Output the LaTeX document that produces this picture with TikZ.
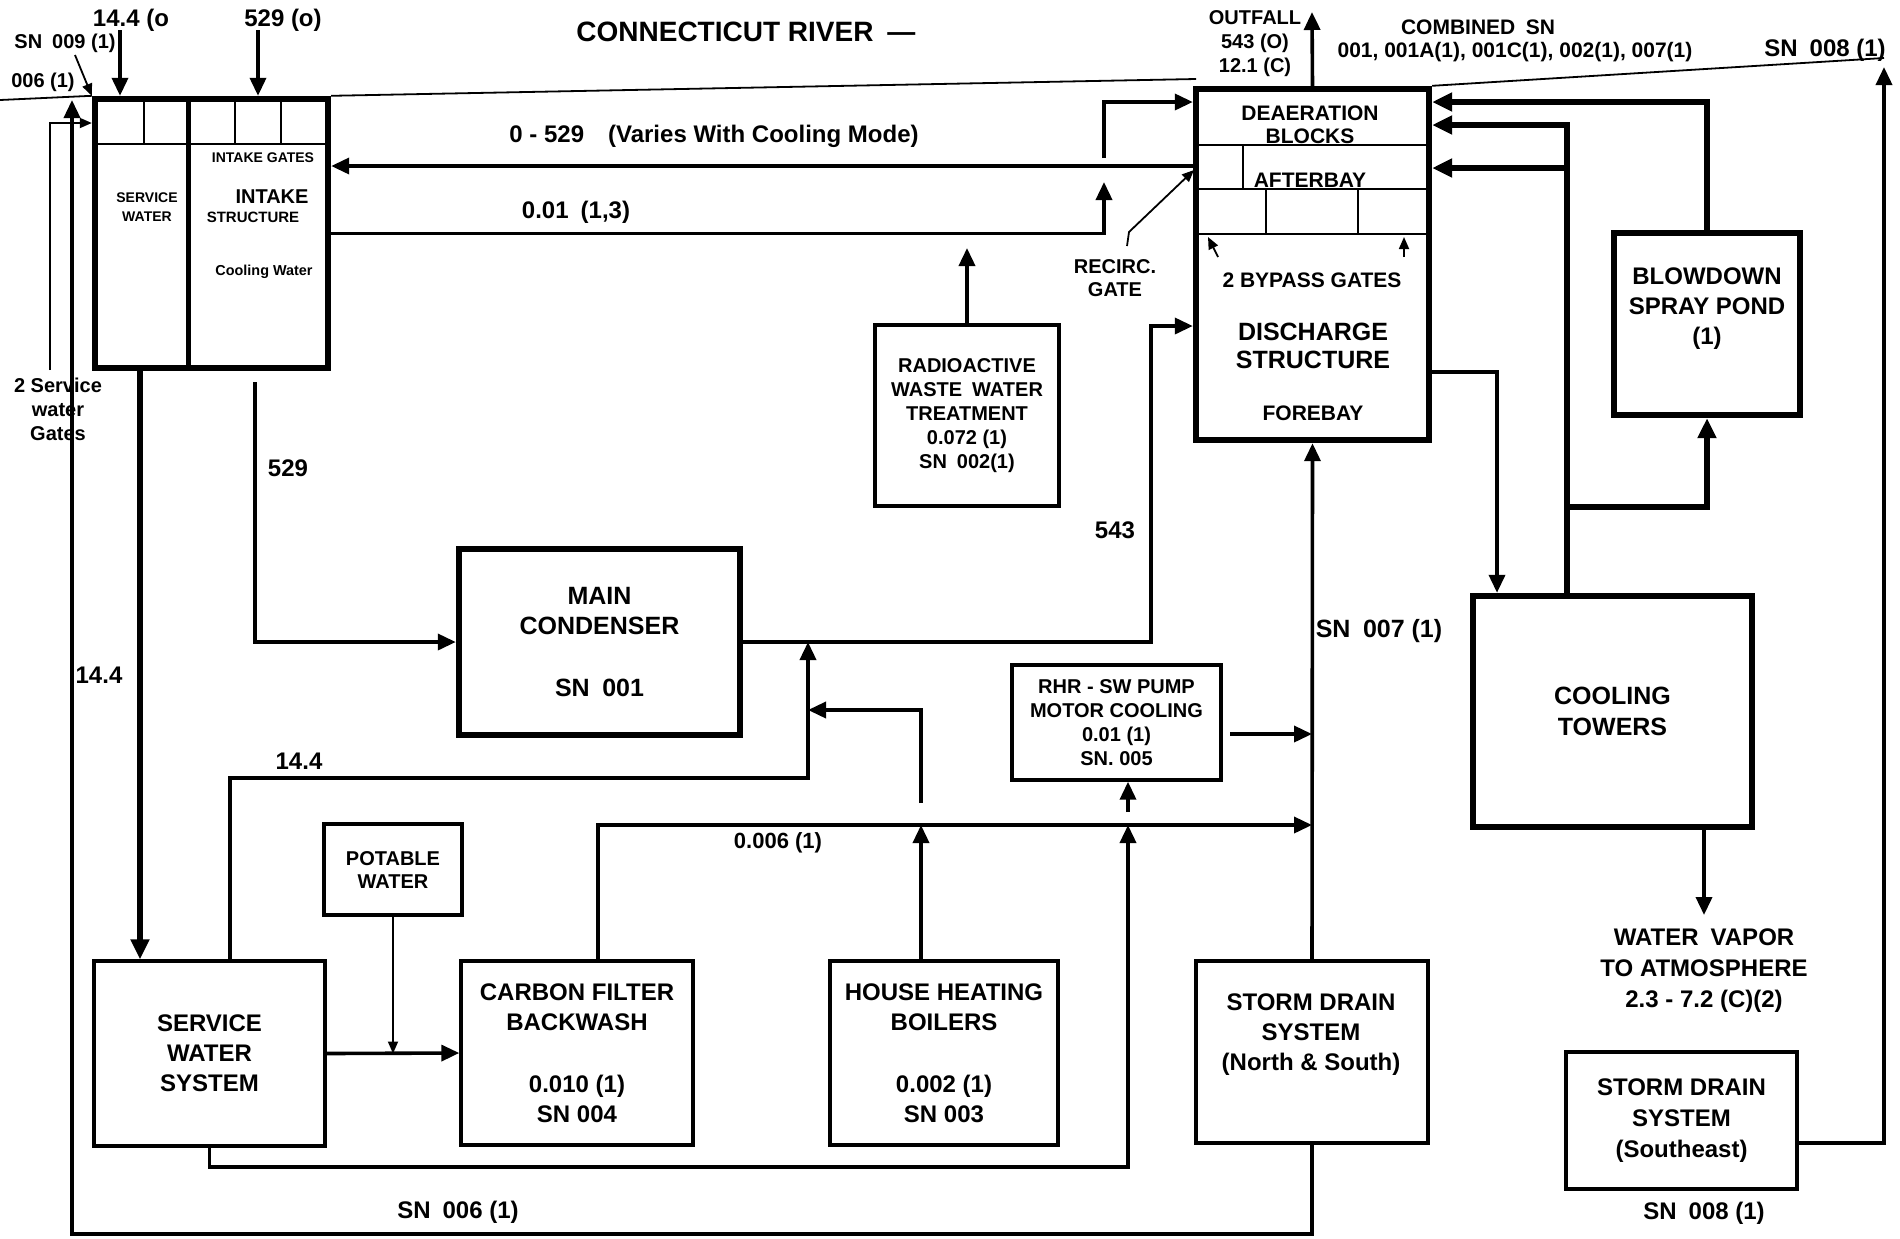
\documentclass[tikz,border=0pt]{standalone}
\usepackage{fontspec}
\setmainfont{Liberation Sans}
\usetikzlibrary{arrows.meta}
\newcommand{\fsz}[2]{\bfseries\fontsize{#1}{#2}\selectfont}

\begin{document}
\begin{tikzpicture}[x=0.5pt, y=-0.5pt,
    every node/.style={inner sep=0pt, align=center, font=\fsz{12}{15}},
    bigbox/.style={draw, line width=3.2pt},
    box/.style={draw, line width=1.7pt},
    flow/.style={line width=1.8pt, -{Triangle[length=9pt,width=8pt]}},
    heavy/.style={line width=2.6pt, -{Triangle[length=10pt,width=9pt]}},
    fine/.style={line width=0.9pt},
    thinarrow/.style={fine, -{Triangle[length=6pt,width=5pt]}}]

    \useasboundingbox (0,0) rectangle (1900,1238);

    % Title
    \node[font=\fsz{14}{17}, anchor=west] (river) at (576,32) {CONNECTICUT RIVER\enspace---};

    % Intake structure
    \node[bigbox, minimum width=116.5pt, minimum height=134.5pt] (intake) at (211.5,233.5) {};
    \draw[line width=2.5pt] (188,99) -- (188,368);
    \draw[fine] (95,144) -- (328,144) (144,99) -- (144,144)
        (235,99) -- (235,144) (281,99) -- (281,144);
    \node[font=\fsz{7}{9}] (igates) at (263,158) {INTAKE GATES};
    \node[font=\fsz{7}{9.5}] (swcol) at (147,207) {SERVICE\\WATER};
    \node[font=\fsz{10}{12}] (itk) at (272,197) {INTAKE};
    \node[font=\fsz{7.5}{9}] (itks) at (253,217) {STRUCTURE};
    \node[font=\fsz{7.2}{9}] (cw) at (264,272) {Cooling Water};

    % Discharge structure
    \node[bigbox, minimum width=116.5pt, minimum height=175.5pt] (disch) at (1312.5,264.5) {};
    \draw[fine] (1196,145) -- (1429,145) (1196,189) -- (1429,189) (1196,234) -- (1429,234)
        (1243,145) -- (1243,189) (1266,189) -- (1266,234) (1358,189) -- (1358,234);
    \node[font=\fsz{10.5}{11.5}] (deaer) at (1310,125) {DEAERATION\\BLOCKS};
    \node[font=\fsz{10.5}{12}] (after) at (1310,180) {AFTERBAY};
    \node[font=\fsz{10.5}{12}] (bypass) at (1312,280) {2 BYPASS GATES};
    \node[font=\fsz{12.5}{14}] (dstr) at (1313,346) {DISCHARGE\\STRUCTURE};
    \node[font=\fsz{10.5}{12}] (foreb) at (1313,413) {FOREBAY};
    \draw[thinarrow] (1218,257) -- (1208,237);
    \draw[thinarrow] (1404,257) -- (1404,237);

    % Boxes
    \node[bigbox, minimum width=140.5pt, minimum height=93pt, font=\fsz{12.5}{15}] (cond) at (599.5,642) {MAIN\\CONDENSER\\[16pt]SN\enspace 001};
    \node[box, minimum width=92pt, minimum height=90.5pt, font=\fsz{10}{12}] (radw) at (967,415.5) {RADIOACTIVE\\WASTE\enspace WATER\\TREATMENT\\0.072 (1)\\SN\enspace 002(1)};
    \node[box, minimum width=104.5pt, minimum height=57.5pt, font=\fsz{10}{12}] (rhr) at (1116.5,722.5) {RHR - SW PUMP\\MOTOR COOLING\\0.01 (1)\\SN.\ 005};
    \node[bigbox, minimum width=93pt, minimum height=91pt] (blow) at (1707,324) {};
    \node (blowtxt) at (1707,309) {BLOWDOWN\\SPRAY POND\\(1)};
    \node[bigbox, minimum width=139.5pt, minimum height=115.5pt, font=\fsz{12.5}{15.5}] (towers) at (1612.5,711.5) {COOLING\\TOWERS};
    \node[box, minimum width=115.5pt, minimum height=92.5pt] (swsys) at (209.5,1053.5) {SERVICE\\WATER\\SYSTEM};
    \node[box, minimum width=69pt, minimum height=45.5pt, font=\fsz{10}{11.5}] (potable) at (393,869.5) {POTABLE\\WATER};
    \node[box, minimum width=116pt, minimum height=92pt] (carbon) at (577,1053) {CARBON FILTER\\BACKWASH\\[16pt]0.010 (1)\\SN 004};
    \node[box, minimum width=114pt, minimum height=92pt] (boilers) at (944,1053) {HOUSE HEATING\\BOILERS\\[16pt]0.002 (1)\\SN 003};
    \node[box, minimum width=116pt, minimum height=91pt] (sdns) at (1312,1052) {};
    \node (sdnstxt) at (1311,1035) {STORM DRAIN\\SYSTEM\\(North \& South)};
    \node[box, minimum width=115.5pt, minimum height=68.5pt, font=\fsz{12}{15.5}] (sdse) at (1681.5,1120.5) {STORM DRAIN\\SYSTEM\\(Southeast)};

    % Labels
    \node (lbl144o) at (131,20) {14.4 (o};
    \node (lbl529o) at (283,20) {529 (o)};
    \node[font=\fsz{10}{12}] (sn009) at (65,43) {SN\enspace 009 (1)};
    \node[font=\fsz{10}{12}] (sn006a) at (43,82) {006 (1)};
    \node[font=\fsz{10}{12}] (gates) at (58,409) {2 Service\\water\\Gates};
    \node (vary) at (714,136) {0 - 529\quad(Varies With Cooling Mode)};
    \node (q001) at (576,212) {0.01\enspace(1,3)};
    \node (q529) at (288,468) {529};
    \node (q144a) at (99,675) {14.4};
    \node (q144b) at (299,761) {14.4};
    \node (q543) at (1115,530) {543};
    \node[font=\fsz{11}{13}] (q006) at (778,843) {0.006 (1)};
    \node[font=\fsz{12.5}{15}] (sn007) at (1379,631) {SN\enspace 007 (1)};
    \node (sn006) at (458,1212) {SN\enspace 006 (1)};
    \node[font=\fsz{10}{11.5}] (recirc) at (1115,278) {RECIRC.\\GATE};
    \node[font=\fsz{10}{12}] (outfall) at (1255,44) {OUTFALL\\543 (O)\\12.1 (C)};
    \node[font=\fsz{10.5}{12.5}] (comb) at (1478,27) {COMBINED\enspace SN};
    \node[font=\fsz{10.5}{12.5}] (combl) at (1515,52) {001, 001A(1), 001C(1), 002(1), 007(1)};
    \node (sn008a) at (1825,50) {SN\enspace 008 (1)};
    \node[font=\fsz{12}{15.5}] (vapor) at (1704,971) {WATER\enspace VAPOR\\TO ATMOSPHERE\\2.3 - 7.2 (C)(2)};
    \node (sn008b) at (1704,1213) {SN\enspace 008 (1)};

    % Coordinates
    \coordinate (rivL) at (0,100);
    \coordinate (rivM) at (1196,79);
    \coordinate (rivR) at (1884,58);
    \coordinate (in144) at (120,30);
    \coordinate (in529) at (258,30);
    \coordinate (p009) at (75,55);
    \coordinate (gw0) at (50,370);
    \coordinate (gw1) at (50,123);
    \coordinate (swx) at (140,0);
    \coordinate (r006) at (72,1234);
    \coordinate (c529) at (255,382);
    \coordinate (c543) at (1151,326);
    \coordinate (c0529) at (1196,166);
    \coordinate (rcBot) at (1104,158);
    \coordinate (rcTop) at (1104,102);
    \coordinate (c001) at (1104,182);
    \coordinate (radUp) at (967,248);
    \coordinate (rg1) at (1127,246);
    \coordinate (rg2) at (1129,232);
    \coordinate (rg3) at (1194,170);
    \coordinate (outf) at (1312,12);
    \coordinate (ctIn) at (1497,372);
    \coordinate (ctUp) at (1567,125);
    \coordinate (ctMid) at (1567,168);
    \coordinate (ctBr) at (1567,507);
    \coordinate (blTop) at (1707,102);
    \coordinate (vap) at (1704,915);
    \coordinate (seR) at (1884,1143);
    \coordinate (seTop) at (1884,67);
    \coordinate (rhrOut) at (1230,734);
    \coordinate (rhrIn) at (1128,812);
    \coordinate (c006) at (598,825);
    \coordinate (bo) at (921,825);
    \coordinate (bo2) at (921,803);
    \coordinate (bo3) at (921,710);
    \coordinate (s14) at (230,778);
    \coordinate (s14b) at (808,778);
    \coordinate (swb) at (1128,1167);

    % River bank
    \draw[fine] (rivL) -- (intake.north west);
    \draw[fine] (intake.north east) -- (rivM);
    \draw[fine] (disch.north east) -- (rivR);

    % Intake side
    \draw[flow] (in144) -- (in144 |- intake.north);
    \draw[flow] (in529) -- (in529 |- intake.north);
    \draw[thinarrow] (p009) -- (intake.north west);
    \draw[thinarrow] (gw0) -- (gw1) -- (gw1 -| intake.west);
    \draw[heavy] (intake.south -| swx) -- (swsys.north -| swx);
    \draw[flow] (c529) |- (cond.west);
    \draw[flow] (sdns.south) |- (r006) -- (r006 |- rivL);

    % Intake to discharge
    \draw[flow] (c0529) -- (c0529 -| intake.east);
    \draw[flow] (rcBot) -- (rcTop) -- (rcTop -| disch.west);
    \draw[flow] (intake.east) -| (c001);
    \draw[flow] (radw.north) -- (radUp);
    \draw[thinarrow] (rg1) -- (rg2) -- (rg3);
    \draw[flow] (cond.east) -| (c543) -- (c543 -| disch.west);
    \draw[flow] (disch.north) -- (outf);

    % Cooling towers and spray pond
    \draw[flow] (ctIn -| disch.east) -- (ctIn) -- (ctIn |- towers.north);
    \draw[heavy] (ctUp |- towers.north) -- (ctUp) -- (ctUp -| disch.east);
    \draw[heavy] (ctMid) -- (ctMid -| disch.east);
    \draw[heavy] (ctBr) -| (blow.south);
    \draw[heavy] (blow.north) -- (blTop) -- (blTop -| disch.east);
    \draw[flow] (vap |- towers.south) -- (vap);
    \draw[flow] (seR -| sdse.east) -- (seR) -- (seTop);

    % Storm drain and small flows
    \draw[flow] (sdns.north) -- (disch.south);
    \draw[flow] (rhrOut) -- (rhrOut -| sdns.north);
    \draw[flow] (c006 |- carbon.north) -- (c006) -- (c006 -| sdns.north);
    \draw[flow] (bo |- boilers.north) -- (bo);
    \draw[flow] (bo2) -- (bo3) -- (bo3 -| s14b);
    \draw[flow] (s14 |- swsys.north) -- (s14) -- (s14b) -- (s14b |- cond.east);
    \draw[flow] (swsys.east) -- (carbon.west);
    \draw[thinarrow] (potable.south) -- (potable.south |- swsys.east);
    \draw[flow] (swsys.south) |- (swb) -- (swb |- c006);
    \draw[flow] (rhrIn) -- (rhrIn |- rhr.south);
\end{tikzpicture}
\end{document}
